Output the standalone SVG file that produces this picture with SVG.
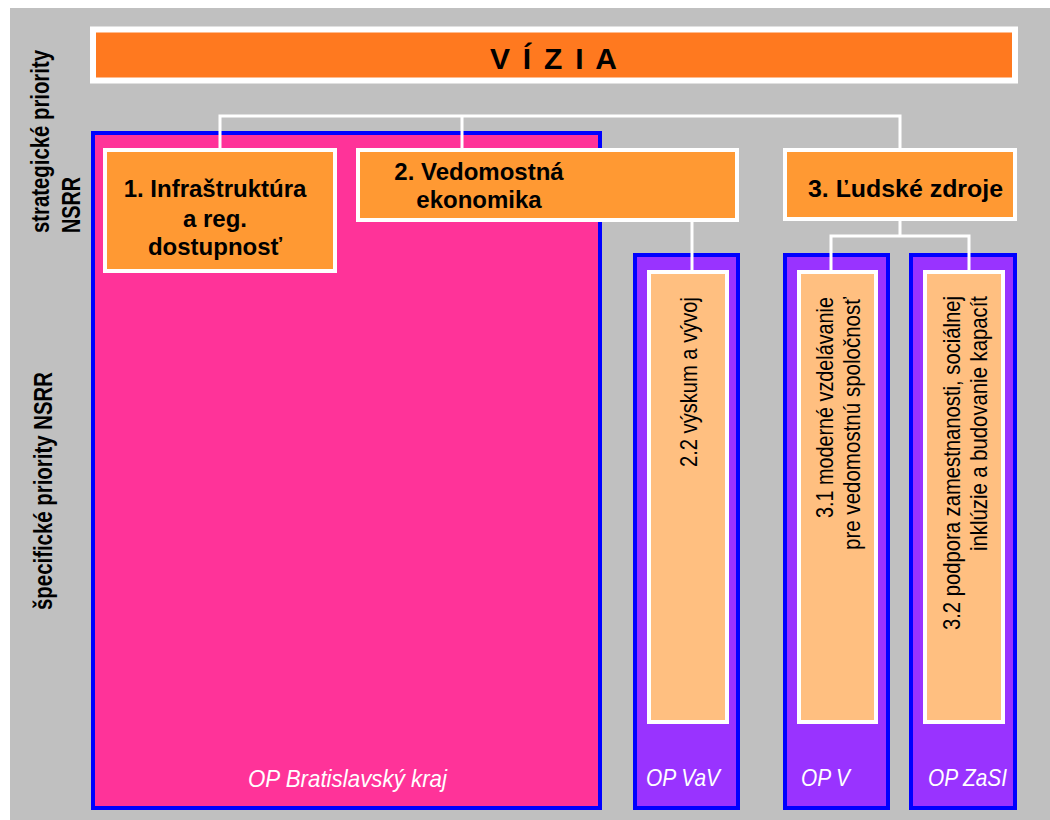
<svg xmlns="http://www.w3.org/2000/svg" width="1050" height="820" viewBox="0 0 1050 820">
<style>
.bg{fill:#C0C0C0}
.cont-pink{fill:#FF3399;stroke:#0000FF;stroke-width:4}
.cont-purple{fill:#9933FF;stroke:#0000FF;stroke-width:4}
.vis{fill:#FF791F;stroke:#FFFFFF;stroke-width:6}
.prio{fill:#FF9933;stroke:#FFFFFF;stroke-width:4}
.spec{fill:#FFBF80;stroke:#FFFFFF;stroke-width:4}
.conn{fill:none;stroke:#FFFFFF;stroke-width:3}
.bold{font-family:"Liberation Sans",Arial,sans-serif;font-weight:bold;font-size:24px;fill:#000}
.side{font-family:"Liberation Sans Narrow","Liberation Sans",Arial,sans-serif;font-weight:bold;font-size:25px;fill:#000}
.vert{font-family:"Liberation Sans Narrow","Liberation Sans",Arial,sans-serif;font-size:24px;fill:#000}
.op{font-family:"Liberation Sans Narrow","Liberation Sans",Arial,sans-serif;font-style:italic;font-size:24px;fill:#FFFFFF}
</style>
<rect class="bg" x="10" y="8" width="1040" height="812"/>

<g id="labels">
<text class="side" transform="translate(49,233) rotate(-90)" textLength="183" lengthAdjust="spacingAndGlyphs">strategické priority</text>
<text class="side" transform="translate(80,233) rotate(-90)" textLength="56" lengthAdjust="spacingAndGlyphs">NSRR</text>
<text class="side" transform="translate(52,610) rotate(-90)" textLength="238" lengthAdjust="spacingAndGlyphs">špecifické priority NSRR</text>
</g>

<g id="vizia">
<rect class="vis" x="93" y="29.5" width="922" height="51"/>
<text class="bold" style="font-size:30px" x="490" y="69" textLength="127" lengthAdjust="spacing">V Í Z I A</text>
</g>

<g id="op-bratislava">
<rect class="cont-pink" x="93" y="133" width="507" height="675"/>
<text class="op" x="248" y="787" textLength="199" lengthAdjust="spacingAndGlyphs">OP Bratislavský kraj</text>
</g>
<g id="op-vav">
<rect class="cont-purple" x="635" y="255" width="103" height="553"/>
<text class="op" x="646" y="786" textLength="74" lengthAdjust="spacingAndGlyphs">OP VaV</text>
</g>
<g id="op-v">
<rect class="cont-purple" x="785" y="255" width="103" height="553"/>
<text class="op" x="801" y="786" textLength="49" lengthAdjust="spacingAndGlyphs">OP V</text>
</g>
<g id="op-zasi">
<rect class="cont-purple" x="911" y="255" width="104" height="553"/>
<text class="op" x="928" y="786" textLength="79" lengthAdjust="spacingAndGlyphs">OP ZaSI</text>
</g>

<g id="connectors">
<path class="conn" d="M220,150 V116 H900 V150 M462,116 V150"/>
<path class="conn" d="M692,220 V272"/>
<path class="conn" d="M900,219 V236 M831,272 V236 H969 V272"/>
</g>

<g id="p1">
<rect class="prio" x="105" y="150" width="230" height="121"/>
<text class="bold" text-anchor="middle"><tspan x="215" y="197">1. Infraštruktúra</tspan><tspan x="215" y="227">a reg.</tspan><tspan x="215" y="255">dostupnosť</tspan></text>
</g>
<g id="p2">
<rect class="prio" x="358" y="150" width="379" height="70"/>
<text class="bold" text-anchor="middle"><tspan x="479" y="180">2. Vedomostná</tspan><tspan x="479" y="208">ekonomika</tspan></text>
</g>
<g id="p3">
<rect class="prio" x="785" y="150" width="230" height="69"/>
<text class="bold" x="808" y="197" textLength="195" lengthAdjust="spacingAndGlyphs">3. Ľudské zdroje</text>
</g>

<g id="s22">
<rect class="spec" x="649" y="272" width="78" height="450"/>
<text class="vert" transform="translate(697,467) rotate(-90)" textLength="170" lengthAdjust="spacingAndGlyphs">2.2 výskum a vývoj</text>
</g>
<g id="s31">
<rect class="spec" x="799" y="272" width="77" height="450"/>
<text class="vert" text-anchor="end" transform="translate(833,297) rotate(-90)" textLength="221" lengthAdjust="spacingAndGlyphs">3.1 moderné vzdelávanie</text>
<text class="vert" text-anchor="end" transform="translate(860,297) rotate(-90)" textLength="253" lengthAdjust="spacingAndGlyphs">pre vedomostnú spoločnosť</text>
</g>
<g id="s32">
<rect class="spec" x="925" y="272" width="78" height="450"/>
<text class="vert" text-anchor="end" transform="translate(960,296) rotate(-90)" textLength="334" lengthAdjust="spacingAndGlyphs">3.2 podpora zamestnanosti, sociálnej</text>
<text class="vert" text-anchor="end" transform="translate(987,296) rotate(-90)" textLength="255" lengthAdjust="spacingAndGlyphs">inklúzie a budovanie kapacít</text>
</g>
</svg>
